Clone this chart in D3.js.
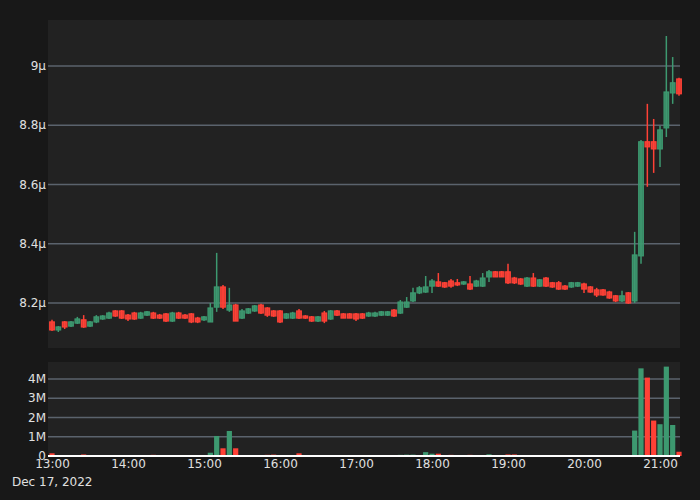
<!DOCTYPE html>
<meta charset="utf-8">
<style>
body { margin: 0; background: #181818; }
text { font-family: 'DejaVu Sans', sans-serif; fill: #e0e0e0; }
</style>
<svg width="700" height="500"></svg>
<script src="https://d3js.org/d3.v7.min.js"></script>
<script>
// 5-minute candles from 13:00, prices in micro units
var startTime = new Date(2022, 11, 17, 13, 0);
var opens = [8.136,8.109,8.136,8.122,8.132,8.143,8.122,8.136,8.146,8.149,8.173,8.173,8.159,8.166,8.149,8.159,8.166,8.159,8.163,8.139,
 8.166,8.159,8.163,8.149,8.143,8.136,8.186,8.254,8.176,8.193,8.149,8.166,8.173,8.193,8.183,8.173,8.173,8.149,8.149,8.173,
 8.156,8.153,8.139,8.166,8.146,8.173,8.163,8.163,8.163,8.163,8.156,8.156,8.159,8.159,8.176,8.166,8.186,8.207,8.234,8.237,
 8.257,8.271,8.268,8.274,8.268,8.264,8.264,8.257,8.257,8.288,8.305,8.305,8.305,8.284,8.281,8.257,8.284,8.257,8.284,8.268,
 8.268,8.257,8.254,8.257,8.264,8.254,8.244,8.244,8.237,8.224,8.207,8.234,8.207,8.359,8.744,8.744,8.720,8.791,8.909,8.956];
var highs = [8.143,8.122,8.139,8.139,8.153,8.159,8.139,8.159,8.159,8.170,8.176,8.176,8.163,8.170,8.170,8.173,8.170,8.163,8.166,8.170,
 8.170,8.163,8.166,8.153,8.156,8.200,8.369,8.261,8.251,8.197,8.180,8.183,8.193,8.197,8.186,8.176,8.176,8.166,8.170,8.180,
 8.159,8.156,8.156,8.173,8.176,8.176,8.166,8.166,8.166,8.166,8.170,8.170,8.173,8.173,8.180,8.210,8.220,8.251,8.257,8.291,
 8.281,8.301,8.271,8.281,8.281,8.274,8.291,8.278,8.301,8.311,8.308,8.308,8.332,8.288,8.284,8.288,8.301,8.281,8.288,8.271,
 8.274,8.261,8.271,8.271,8.268,8.257,8.251,8.247,8.241,8.227,8.241,8.237,8.440,8.750,8.872,8.821,8.798,9.101,9.030,8.960];
var lows = [8.105,8.102,8.112,8.119,8.129,8.116,8.119,8.132,8.143,8.146,8.153,8.146,8.139,8.143,8.146,8.156,8.146,8.146,8.136,8.136,
 8.146,8.146,8.132,8.132,8.139,8.136,8.170,8.180,8.170,8.139,8.146,8.163,8.170,8.163,8.153,8.153,8.132,8.146,8.146,8.146,
 8.146,8.136,8.136,8.132,8.143,8.156,8.149,8.149,8.139,8.146,8.153,8.153,8.156,8.156,8.153,8.163,8.183,8.203,8.230,8.234,
 8.234,8.254,8.251,8.251,8.257,8.261,8.244,8.254,8.254,8.271,8.288,8.288,8.264,8.264,8.261,8.254,8.254,8.254,8.254,8.251,
 8.244,8.244,8.251,8.254,8.234,8.234,8.220,8.224,8.214,8.203,8.203,8.197,8.200,8.332,8.592,8.639,8.659,8.760,8.872,8.899];
var closes = [8.109,8.119,8.119,8.136,8.146,8.119,8.136,8.153,8.156,8.166,8.156,8.149,8.146,8.146,8.166,8.170,8.149,8.149,8.139,8.166,
 8.149,8.149,8.136,8.136,8.153,8.183,8.254,8.186,8.193,8.139,8.173,8.180,8.190,8.166,8.159,8.156,8.136,8.163,8.166,8.149,
 8.149,8.139,8.153,8.139,8.173,8.159,8.149,8.149,8.146,8.149,8.166,8.166,8.170,8.170,8.156,8.203,8.203,8.234,8.251,8.254,
 8.274,8.257,8.254,8.257,8.261,8.271,8.247,8.274,8.284,8.305,8.288,8.288,8.268,8.268,8.264,8.284,8.257,8.278,8.257,8.254,
 8.247,8.247,8.268,8.268,8.247,8.237,8.227,8.227,8.217,8.207,8.224,8.200,8.362,8.744,8.727,8.720,8.784,8.912,8.943,8.906];
// volume in millions
var volumes = [0.14,0.04,0.05,0.03,0.05,0.08,0.03,0.04,0.03,0.02,0.03,0.02,0.04,0.05,0.02,0.02,0.06,0.03,0.04,0.03,
 0.03,0.03,0.05,0.02,0.03,0.17,1.04,0.40,1.30,0.40,0.05,0.02,0.02,0.03,0.06,0.07,0.05,0.03,0.02,0.14,
 0.03,0.05,0.02,0.02,0.03,0.02,0.03,0.02,0.03,0.02,0.02,0.02,0.02,0.02,0.03,0.06,0.07,0.07,0.03,0.20,
 0.12,0.12,0.05,0.06,0.05,0.04,0.06,0.03,0.04,0.09,0.05,0.04,0.08,0.08,0.03,0.05,0.04,0.02,0.03,0.02,
 0.03,0.02,0.02,0.02,0.03,0.02,0.03,0.02,0.02,0.03,0.02,0.03,1.32,4.55,4.07,1.84,1.65,4.64,1.61,0.22];
var priceTicks = [8.2, 8.4, 8.6, 8.8, 9];
var volTicks = [0, 1, 2, 3, 4];

var up = "#3d9970", down = "#ff4136", grid = "#5b636d";

var data = opens.map(function (o, i) {
    return { t: d3.timeMinute.offset(startTime, 5 * i), o: o, h: highs[i], l: lows[i], c: closes[i], v: volumes[i] };
});

var svg = d3.select("svg");
var left = 48, right = 680;

var x = d3.scaleTime()
    .domain([new Date(2022, 11, 17, 12, 56, 50), new Date(2022, 11, 17, 21, 15, 47)])
    .range([left, right]);
var y = d3.scaleLinear().domain([8.048, 9.155]).range([348, 20]);
var yv = d3.scaleLinear().domain([0, 4.88]).range([456, 362]);

svg.append("rect").attr("x", left).attr("y", 20).attr("width", right - left).attr("height", 328).attr("fill", "#222");
svg.append("rect").attr("x", left).attr("y", 362).attr("width", right - left).attr("height", 94).attr("fill", "#222");

// price grid + labels
var gp = svg.append("g");
gp.selectAll("line").data(priceTicks).join("line")
    .attr("x1", left).attr("x2", right)
    .attr("y1", d => y(d)).attr("y2", d => y(d))
    .attr("stroke", grid).attr("stroke-width", 1.5);
gp.selectAll("text").data(priceTicks).join("text")
    .attr("x", 46).attr("y", d => y(d)).attr("dy", "0.35em")
    .attr("text-anchor", "end").attr("font-size", 12)
    .text(d => d3.format("~g")(d) + "μ");

// volume grid + labels
var gv = svg.append("g");
gv.selectAll("line").data(volTicks.slice(1)).join("line")
    .attr("x1", left).attr("x2", right)
    .attr("y1", d => yv(d)).attr("y2", d => yv(d))
    .attr("stroke", grid).attr("stroke-width", 1.5);
gv.selectAll("text").data(volTicks).join("text")
    .attr("x", 46).attr("y", d => yv(d)).attr("dy", "0.35em")
    .attr("text-anchor", "end").attr("font-size", 12)
    .text(d => d === 0 ? "0" : d + "M");

var bw = 4.6;
var color = d => d.c >= d.o ? up : down;

// candles
var cg = svg.append("g").selectAll("g").data(data).join("g");
cg.append("line")
    .attr("x1", d => x(d.t)).attr("x2", d => x(d.t))
    .attr("y1", d => y(d.h)).attr("y2", d => y(d.l))
    .attr("stroke", color).attr("stroke-width", 1.5);
cg.append("rect")
    .attr("x", d => x(d.t) - bw / 2).attr("width", bw)
    .attr("y", d => y(Math.max(d.o, d.c)))
    .attr("height", d => Math.max(1, Math.abs(y(d.o) - y(d.c))))
    .attr("fill", color).attr("fill-opacity", 0.85)
    .attr("stroke", color).attr("stroke-width", 1.2);

// volume bars
svg.append("g").selectAll("rect").data(data).join("rect")
    .attr("x", d => x(d.t) - 2.6).attr("width", 5.2)
    .attr("y", d => yv(d.v)).attr("height", d => yv(0) - yv(d.v))
    .attr("fill", color);

svg.append("line").attr("x1", left).attr("x2", right)
    .attr("y1", yv(0)).attr("y2", yv(0)).attr("stroke", "#fff").attr("stroke-width", 2);

// time axis
var xt = svg.append("g").attr("transform", "translate(0,457)")
    .call(d3.axisBottom(x).ticks(d3.timeHour.every(1)).tickFormat(d3.timeFormat("%H:%M")).tickSize(0).tickPadding(2));
xt.select(".domain").remove();
xt.selectAll("text").attr("font-size", 12).attr("fill", "#e0e0e0").attr("font-family", "'DejaVu Sans', sans-serif");

svg.append("text").attr("x", 12).attr("y", 486).attr("font-size", 12).text("Dec 17, 2022");
</script>
